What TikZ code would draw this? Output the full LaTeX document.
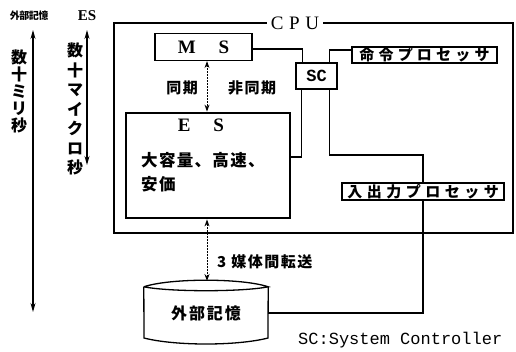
\documentclass[tikz,border=0pt]{standalone}
\usepackage{fontspec}
\setmainfont{Liberation Serif}
\setmonofont{Liberation Mono}
\newfontfamily\jp{Noto Sans CJK JP}
\usetikzlibrary{arrows.meta,calc}
\tikzset{
  thinbox/.style={draw, line width=1.2pt, inner sep=0pt, fill=white},
  thickbox/.style={draw, line width=2.8pt, inner sep=0pt},
  wire/.style={line width=1.1pt},
  dbl/.style={line width=1.1pt, {Stealth[length=9pt,width=5pt]}-{Stealth[length=9pt,width=5pt]}},
  dashdbl/.style={line width=1pt, dash pattern=on 2pt off 1pt, {Stealth[length=7pt,width=5pt]}-{Stealth[length=7pt,width=5pt]}},
  jtext/.style={font=\jp\bfseries\fontsize{15}{18}\selectfont, inner sep=0pt},
  latin/.style={inner sep=0pt, font=\bfseries\fontsize{19}{20}\selectfont},
}
\begin{document}
\begin{tikzpicture}[x=1pt,y=-1pt]
\useasboundingbox (0,0) rectangle (516,351);
% CPU frame
\node[latin, font=\fontsize{19}{20}\selectfont] (cpu) at (295,23) {C\hspace{0.3em}P\hspace{0.3em}U};
\draw[line width=2.8pt] ([xshift=-4pt]cpu.west) -- (114,23) -- (114,233) -- (513,233) -- (513,23) -- ([xshift=4pt]cpu.east);
% boxes
\node[thinbox, minimum width=97pt, minimum height=27pt, font=\bfseries\fontsize{19}{20}\selectfont] (ms) at (203.5,47) {M\hspace{1.2em}S};
\node[thinbox, minimum width=41pt, minimum height=26pt, font=\ttfamily\bfseries\fontsize{17}{18}\selectfont] (sc) at (316.5,76) {SC};
\node[thinbox, minimum width=145pt, minimum height=16pt, font=\jp\bfseries\fontsize{15}{18}\selectfont\addfontfeature{LetterSpace=28}] (ip) at (424.5,55) {命令プロセッサ};
\node[thickbox, minimum width=164pt, minimum height=105pt] (es) at (208,165.5) {};
\node[thinbox, minimum width=162pt, minimum height=17pt, font=\jp\bfseries\fontsize{15}{18}\selectfont\addfontfeature{LetterSpace=30}] (io) at (423,191.5) {入出力プロセッサ};
% ES contents
\node[latin] at (201,125) {E\hspace{1.2em}S};
\node[anchor=west, inner sep=0pt, font=\jp\bfseries\fontsize{16.5}{18}\selectfont\addfontfeature{LetterSpace=8}] at (141,160) {大容量、高速、};
\node[anchor=west, inner sep=0pt, font=\jp\bfseries\fontsize{16.5}{18}\selectfont\addfontfeature{LetterSpace=8}] at (141,184) {安価};
% external storage cylinder
\node[minimum width=124pt, minimum height=60pt, inner sep=0pt, font=\jp\bfseries\fontsize{16}{18}\selectfont\addfontfeature{LetterSpace=12}] (ext) at (206,313) {外部記憶};
\draw[line width=1.3pt] (ext.north west) ++(0,4) coordinate (cA)
  (cA) .. controls (170,278) and (242,278) .. (ext.east |- cA)
  .. controls (242,292) and (170,292) .. (cA)
  (cA) -- (144,338) .. controls (175,346) and (237,346) .. (268,338) -- (ext.east |- cA);
% connectors
\coordinate (sc1) at ($(sc.north west)!0.17!(sc.north east)$);
\coordinate (sc2) at ($(sc.north west)!0.80!(sc.north east)$);
\coordinate (sc3) at ($(sc.south west)!0.15!(sc.south east)$);
\coordinate (sc4) at ($(sc.south west)!0.80!(sc.south east)$);
\draw[wire] ([yshift=-2pt]ms.east) -| (sc1);
\draw[wire] ([yshift=5pt]ip.west) -| (sc2);
\draw[wire] (sc3) |- ([yshift=8.5pt]es.east);
\draw[wire] (sc4) |- (423,155) -| (io.north);
\draw[wire] (io.south) |- (ext.east);
% arrows
\coordinate (a1) at (207,60);
\draw[dashdbl] (a1 |- ms.south) -- (a1 |- es.north);
\draw[dashdbl] (a1 |- es.south) -- (207,281);
\node[jtext, font=\jp\bfseries\fontsize{15}{18}\selectfont\addfontfeature{LetterSpace=10}] at (182,88) {同期};
\node[jtext, font=\jp\bfseries\fontsize{15}{18}\selectfont\addfontfeature{LetterSpace=10}] at (252,88) {非同期};
\node[anchor=west, inner sep=0pt, font=\jp\bfseries\fontsize{15}{18}\selectfont\addfontfeature{LetterSpace=10}] at (217,262) {3 媒体間転送};
% left time scales
\node[inner sep=0pt, font=\jp\bfseries\fontsize{10}{12}\selectfont\addfontfeature{LetterSpace=-5}] (xl) at (29,16) {外部記憶};
\node[inner sep=0pt, font=\bfseries\fontsize{15}{16}\selectfont] (esl) at (87,16) {ES};
\coordinate (l1) at (33,30);
\coordinate (l2) at (33,312);
\draw[dbl] (l1) -- (l2);
\coordinate (r1) at (87,30);
\coordinate (r2) at (87,165);
\draw[dbl] (r1) -- (r2);
\node[anchor=north, align=center, inner sep=0pt, font=\jp\bfseries\fontsize{16}{17}\selectfont] at (19,50) {数\\十\\ミ\\リ\\秒};
\node[anchor=north, align=center, inner sep=0pt, font=\jp\bfseries\fontsize{16}{19.5}\selectfont] at (75,43) {数\\十\\マ\\イ\\ク\\ロ\\秒};
% footnote
\node[anchor=west, inner sep=0pt, font=\ttfamily\fontsize{17}{18}\selectfont] at (298,340) {SC:System Controller};
\end{tikzpicture}
\end{document}
